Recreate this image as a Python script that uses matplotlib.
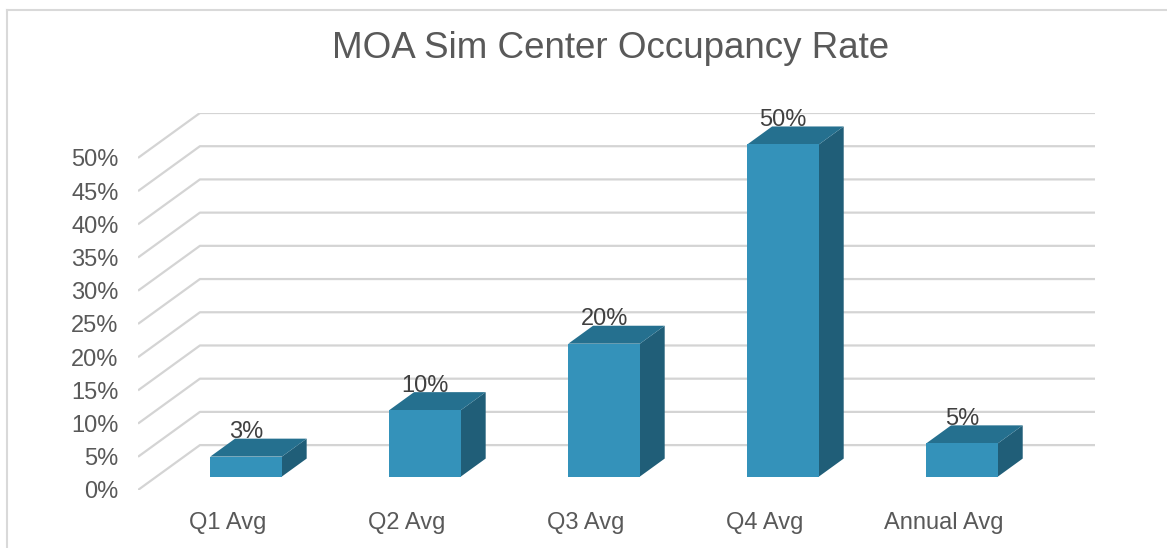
import numpy as np
import matplotlib.pyplot as plt
from matplotlib.patches import Polygon
from matplotlib.lines import Line2D

# dados do gráfico
categorias = ['Q1 Avg', 'Q2 Avg', 'Q3 Avg', 'Q4 Avg', 'Annual Avg']
ocupacao = [3, 10, 20, 50, 5]          # em %
ticks_y = list(range(0, 51, 5))

# parâmetros da perspectiva (deslocamento da parede de fundo, em unidades de dados)
D = 0.346      # deslocamento em x
E = 6.76       # deslocamento em y
largura = 0.4
prof_ini, prof_fim = 0.30, 0.70   # fração da profundidade ocupada pelas barras

cor_frente = '#3492ba'
cor_topo = '#25708f'
cor_lado = '#205e78'
cor_grade = '#d4d4d4'
cor_texto = '#595959'

fig = plt.figure(figsize=(11.67, 5.48), dpi=100)
ax = fig.add_axes([138 / 1167, 58 / 548, 957 / 1167, 377 / 548])
ax.set_xlim(-0.5, 4.5 + D)
ax.set_ylim(0, 50 + E)
for s in ax.spines.values():
    s.set_visible(False)

# linhas de grade: diagonal na parede lateral + horizontal na parede de fundo
for v in ticks_y:
    ax.plot([-0.5, -0.5 + D, 4.5 + D], [v, v + E, v + E],
            color=cor_grade, lw=1.6, zorder=1, solid_capstyle='butt')

# barras em pseudo-3D
x = np.arange(len(categorias))
for xi, val in zip(x, ocupacao):
    ox, oy = prof_ini * D, prof_ini * E
    dx, dy = (prof_fim - prof_ini) * D, (prof_fim - prof_ini) * E
    x0, x1 = xi - largura / 2 + ox, xi + largura / 2 + ox
    y0, y1 = oy, oy + val
    # lado direito
    ax.add_patch(Polygon([(x1, y0), (x1 + dx, y0 + dy), (x1 + dx, y1 + dy), (x1, y1)],
                         closed=True, fc=cor_lado, ec='none', zorder=3))
    # topo
    ax.add_patch(Polygon([(x0, y1), (x1, y1), (x1 + dx, y1 + dy), (x0 + dx, y1 + dy)],
                         closed=True, fc=cor_topo, ec='none', zorder=3))
    # frente
    ax.bar(x0, val, width=largura, bottom=y0, align='edge', color=cor_frente, zorder=4)
    # rótulo de dados
    ax.text(xi + ox, y1 + dy + 1.0, f'{val}%', ha='center', va='center',
            fontsize=17, color='#404040', zorder=5)

ax.set_xticks(x)
ax.set_xticklabels(categorias)
ax.set_yticks(ticks_y)
ax.set_yticklabels([f'{v}%' for v in ticks_y])
ax.tick_params(axis='both', length=0, labelsize=17, labelcolor=cor_texto)
ax.tick_params(axis='y', pad=14)
ax.tick_params(axis='x', pad=16)

fig.text(611 / 1167, 1 - 49 / 548, 'MOA Sim Center Occupancy Rate', ha='center', va='center',
         fontsize=26.5, color=cor_texto)

# borda da área do gráfico
fig.add_artist(Line2D([7 / 1167, 1.0], [1 - 10 / 548, 1 - 10 / 548],
                      transform=fig.transFigure, color='#d9d9d9', lw=1.5))
fig.add_artist(Line2D([7 / 1167, 7 / 1167], [0, 1 - 10 / 548],
                      transform=fig.transFigure, color='#d9d9d9', lw=1.5))

plt.rcParams['font.family'] = ['Liberation Sans', 'DejaVu Sans']
for t in fig.findobj(plt.Text):
    t.set_family(['Liberation Sans', 'DejaVu Sans'])

fig.savefig('out.png', dpi=100)
